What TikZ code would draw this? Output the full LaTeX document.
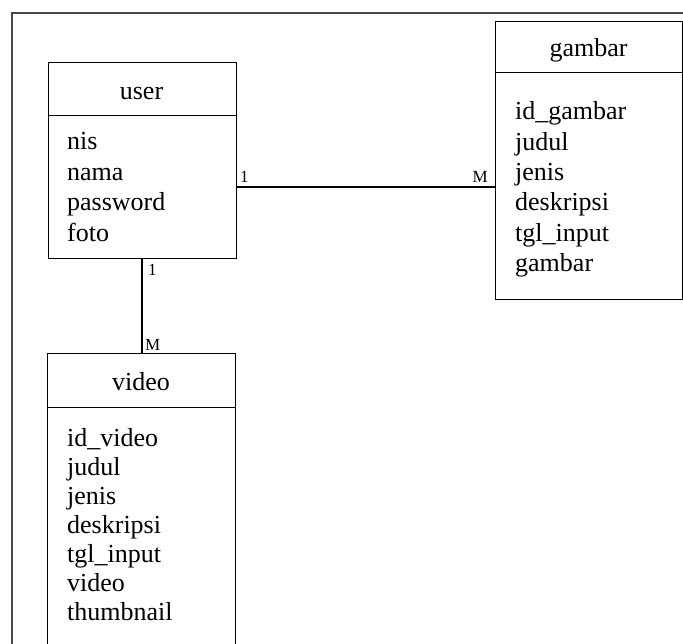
\documentclass[tikz,border=0pt]{standalone}
\usepackage{fontspec}
\setmainfont{Liberation Serif}
\begin{document}
\begin{tikzpicture}[x=1pt,y=-1pt,
  frame/.style={draw=black!72, line width=1.3pt},
  box/.style={draw, line width=1.2pt, inner sep=0pt, anchor=north west},
  title/.style={anchor=base, inner sep=0pt, font=\fontsize{26}{30}\selectfont},
  attr/.style={anchor=base west, inner sep=0pt, font=\fontsize{26}{30}\selectfont},
  card/.style={inner sep=0pt, font=\fontsize{17}{19}\selectfont},
  link/.style={draw, line width=2pt}]
\useasboundingbox (0,0) rectangle (683,644);
\clip (0,0) rectangle (683,644);
% frame
\coordinate (ftl) at (12,13);
\coordinate (ftr) at (690,13);
\coordinate (fbl) at (12,660);
\draw[frame] (ftr) -- (ftl) -- (fbl);
% user
\node[box, minimum width=187.5pt, minimum height=53pt] (uh) at (48,62) {};
\node[box, minimum width=187.5pt, minimum height=143pt] (ub) at (48,115) {};
\node[title] (ut) at (141.5,99.5) {user};
\foreach \t [count=\i] in {nis,nama,password,foto}
  \node[attr] (u\i) at (67,{150+30.5*(\i-1)}) {\t};
% gambar
\node[box, minimum width=187pt, minimum height=51pt] (gh) at (495,21) {};
\node[box, minimum width=187pt, minimum height=227pt] (gb) at (495,72) {};
\node[title] (gt) at (588.5,56.5) {gambar};
\foreach \t [count=\i] in {id\_gambar,judul,jenis,deskripsi,tgl\_input,gambar}
  \node[attr] (g\i) at (515,{120+30.3*(\i-1)}) {\t};
% video
\node[box, minimum width=188pt, minimum height=54pt] (vh) at (47,353) {};
\node[box, minimum width=188pt, minimum height=270pt] (vb) at (47,407) {};
\node[title] (vt) at (141,390) {video};
\foreach \t [count=\i] in {id\_video,judul,jenis,deskripsi,tgl\_input,video,thumbnail}
  \node[attr] (v\i) at (67,{446.5+29*(\i-1)}) {\t};
% connectors
\draw[link] (ub.east) -- (ub.east -| gb.west);
\draw[link] (ub.south) -- (ub.south |- vh.north);
% cardinalities
\node[card, anchor=base west] (c1) at (240,182.5) {1};
\node[card, anchor=base east] (c2) at (488,182.5) {M};
\node[card, anchor=base west] (c3) at (148,276) {1};
\node[card, anchor=base west] (c4) at (145,351) {M};
\end{tikzpicture}
\end{document}
